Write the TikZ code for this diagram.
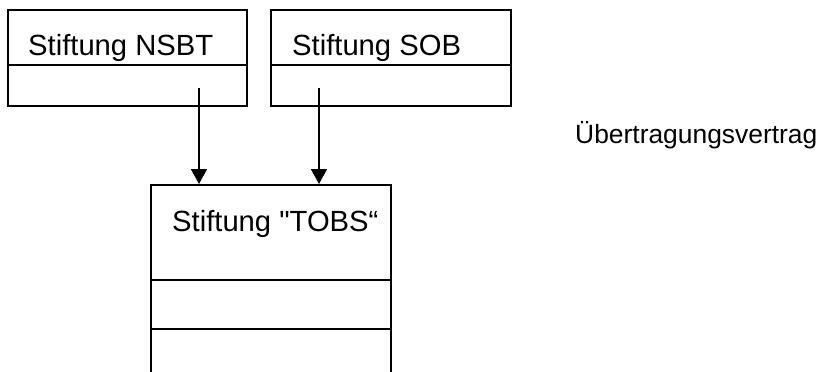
\documentclass[tikz,border=0pt]{standalone}
\usepackage{fontspec}
\setmainfont{Liberation Sans}
\usetikzlibrary{arrows.meta}
\newcommand{\straightquote}{\XeTeXglyph\XeTeXcharglyph34\relax}
\tikzset{
  boxline/.style={draw=black, line width=1.8pt},
  boxlabel/.style={anchor=base west, inner sep=0pt, font=\fontsize{29.2}{33}\selectfont},
  sidelabel/.style={anchor=base west, inner sep=0pt, font=\fontsize{26.4}{30}\selectfont},
  flow/.style={line width=1.8pt, -{Triangle[width=16pt,length=15pt]}}
}
\begin{document}
\begin{tikzpicture}[x=1pt,y=-1pt]
\useasboundingbox (0,0) rectangle (820,372);
% Box 1
\node[boxline, minimum width=239pt, minimum height=96pt, inner sep=0pt] (nsbt) at (127.5,58) {};
\draw[boxline] (8,65) -- (247,65);
\node[boxlabel] (nsbtlabel) at (28,56) {Stiftung NSBT};
% Box 2
\node[boxline, minimum width=240pt, minimum height=96pt, inner sep=0pt] (sob) at (391,58) {};
\draw[boxline] (271,65) -- (511,65);
\node[boxlabel] (soblabel) at (292,56) {Stiftung SOB};
% Box 3 (open at bottom)
\coordinate (tobsnw) at (151,185);
\coordinate (tobsne) at (391,185);
\draw[boxline] (151,372) -- (tobsnw) -- (tobsne) -- (391,372);
\draw[boxline] (151,280) -- (391,280);
\draw[boxline] (151,329) -- (391,329);
\node[boxlabel] (tobslabel) at (172,231) {Stiftung \straightquote TOBS“};
% Arrows
\coordinate (s1) at (199,88);
\coordinate (e1) at (199,184);
\coordinate (s2) at (319,88);
\coordinate (e2) at (319,184);
\draw[flow] (s1) -- (e1);
\draw[flow] (s2) -- (e2);
% Side label
\node[sidelabel] (uev) at (575,143) {Übertragungsvertrag};
\end{tikzpicture}
\end{document}
